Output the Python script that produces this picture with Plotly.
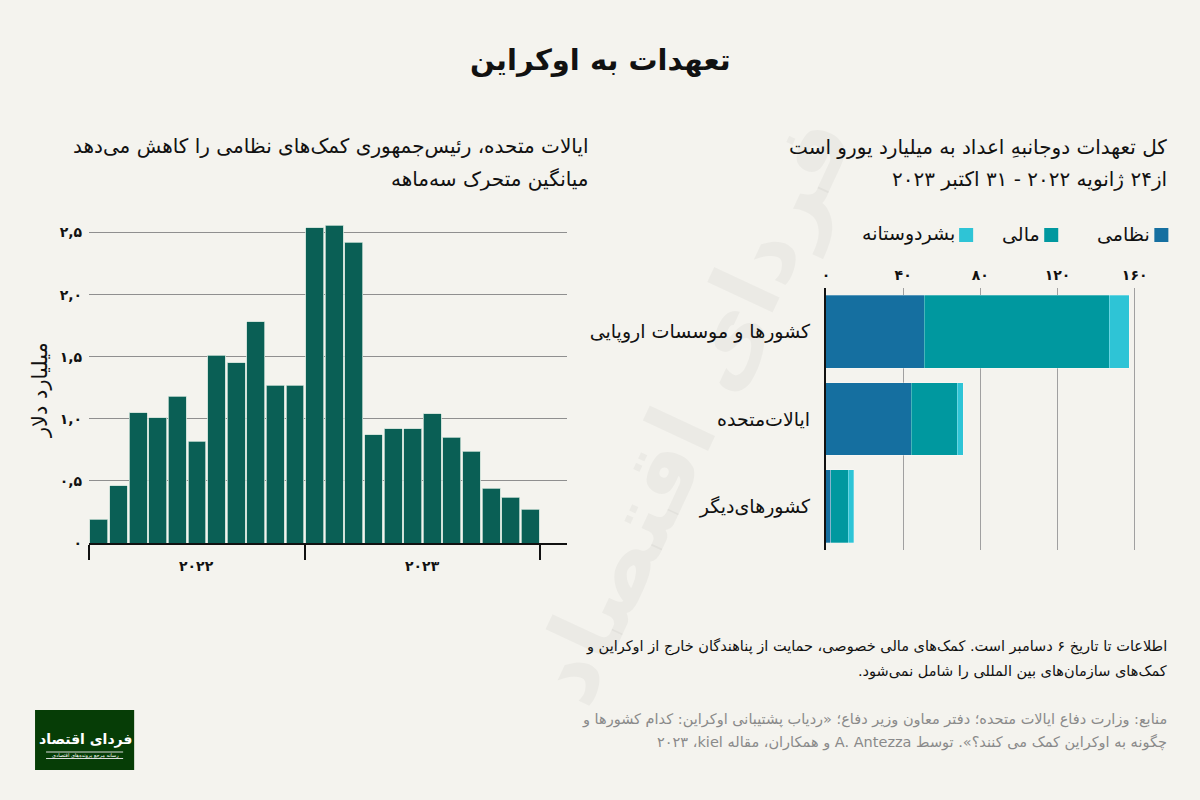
import plotly.graph_objects as go

# ---------------- data ----------------
months = ["2022-02", "2022-03", "2022-04", "2022-05", "2022-06", "2022-07", "2022-08",
          "2022-09", "2022-10", "2022-11", "2022-12",
          "2023-01", "2023-02", "2023-03", "2023-04", "2023-05", "2023-06", "2023-07",
          "2023-08", "2023-09", "2023-10", "2023-11", "2023-12"]
us_military = [0.19, 0.46, 1.05, 1.01, 1.18, 0.82, 1.51, 1.45, 1.78, 1.27, 1.27,
               2.54, 2.56, 2.42, 0.87, 0.92, 0.92, 1.04, 0.85, 0.74, 0.44, 0.37, 0.27]
year_labels = ["۲۰۲۲", "۲۰۲۳"]
years = ["2022", "2023"]
y_ticks = [0, 0.5, 1.0, 1.5, 2.0, 2.5]
y_ticktext = ["۰", "۰,۵", "۱,۰", "۱,۵", "۲,۰", "۲,۵"]

donors = ["کشورها و موسسات اروپایی", "ایالات‌متحده", "کشورهای‌دیگر"]
military = [51.0, 44.1, 2.6]
financial = [95.8, 23.9, 9.0]
humanitarian = [10.4, 3.1, 2.8]
series_names = ["نظامی", "مالی", "بشردوستانه"]
x_ticks = [0, 40, 80, 120, 160]
x_ticktext = ["۰", "۴۰", "۸۰", "۱۲۰", "۱۶۰"]

# ---------------- style ----------------
BG = "#f4f3ee"
BAR = "#0a5f55"
C_MIL = "#156fa0"
C_FIN = "#00989f"
C_HUM = "#2ec4d6"
FONT = "DejaVu Sans, sans-serif"
W, H = 1200, 800
RLE, PDF, RLM = "\u202b", "\u202c", "\u200f"
SCX, OX = 0.993, 4.0   # empirical correction of the captured picture
SCY = 0.99


def px(x):
    return ((x - OX) / SCX) / W


def py(y):
    return 1 - (y / SCY) / H


def rtl(s):
    return RLE + s + PDF


fig = go.Figure()

# left chart
xs = list(range(len(months)))
fig.add_trace(go.Bar(x=xs, y=us_military, marker=dict(color=BAR, line=dict(color="#c9ddd5", width=0.8)),
                     showlegend=False, xaxis="x", yaxis="y", hoverinfo="y"))

# right chart
for name, vals, col in zip(series_names, [military, financial, humanitarian], [C_MIL, C_FIN, C_HUM]):
    fig.add_trace(go.Bar(y=[rtl(d) for d in donors], x=vals, orientation="h", name=name, width=0.835,
                         marker=dict(color=col, line=dict(color="rgba(255,255,255,0.35)", width=0.8)),
                         showlegend=False, xaxis="x2", yaxis="y2"))

# year boundaries
bounds = [-0.5]
centers = []
for yr in years:
    idx = [i for i, m in enumerate(months) if m.startswith(yr)]
    bounds.append(idx[-1] + 0.5)
    centers.append((idx[0] + idx[-1]) / 2)

y_top = 2.65
fig.update_layout(
    width=W, height=H, margin=dict(l=0, r=0, t=0, b=0),
    paper_bgcolor=BG, plot_bgcolor="rgba(0,0,0,0)",
    font=dict(family=FONT, color="#111"),
    barmode="stack", bargap=0.09,
    xaxis=dict(domain=[px(89), px(566)], range=[-0.5, 23.85], tickvals=bounds,
               showticklabels=False, ticks="outside", ticklen=15, tickwidth=2,
               tickcolor="#111", showgrid=False, zeroline=False, showline=True,
               linecolor="#111", linewidth=2, fixedrange=True),
    yaxis=dict(domain=[py(543), py(543 - y_top * 124.2)], range=[0, y_top], tickvals=y_ticks,
               ticktext=y_ticktext, showgrid=True, gridcolor="#8f8f8f", gridwidth=1,
               zeroline=False, showline=False, ticks="", ticklabelstandoff=6,
               tickfont=dict(size=14, color="#111", weight="bold"), fixedrange=True),
    xaxis2=dict(domain=[px(825), px(825 + 165 * 1.927)], range=[0, 165], side="top",
                anchor="y2", tickvals=x_ticks, ticktext=x_ticktext, showgrid=True,
                gridcolor="#a0a0a0", gridwidth=1, zeroline=False, showline=False, ticks="",
                ticklabelstandoff=4,
                tickfont=dict(size=14, color="#111", weight="bold"), fixedrange=True),
    yaxis2=dict(domain=[py(550), py(288)], anchor="x2", autorange="reversed",
                showline=True, linecolor="#111", linewidth=2, ticks="", ticklabelstandoff=10,
                tickfont=dict(size=19, color="#111"), showgrid=False, fixedrange=True),
)

ann = []
# faint watermark
ann.append(dict(x=px(690), y=py(410), xref="paper", yref="paper", text=rtl("<b>فردای اقتصاد</b>"),
                textangle=-65, showarrow=False, font=dict(size=95, color="rgba(0,0,0,0.035)"),
                xanchor="center", yanchor="middle"))
# title
ann.append(dict(x=px(600), y=py(60), xref="paper", yref="paper", text=rtl("<b>تعهدات به اوکراین</b>"),
                showarrow=False, font=dict(size=29, color="#111"), xanchor="center", yanchor="middle"))
# left subtitle
ann.append(dict(x=px(590), y=py(146), xref="paper", yref="paper",
                text=rtl("ایالات متحده، رئیس‌جمهوری کمک‌های نظامی را کاهش می‌دهد"),
                showarrow=False, font=dict(size=20), xanchor="right", yanchor="middle"))
ann.append(dict(x=px(590), y=py(179), xref="paper", yref="paper", text=rtl("میانگین متحرک سه‌ماهه"),
                showarrow=False, font=dict(size=20), xanchor="right", yanchor="middle"))
# right subtitle
ann.append(dict(x=px(1168), y=py(147), xref="paper", yref="paper",
                text=rtl("کل تعهدات دوجانبهِ اعداد به میلیارد یورو است"),
                showarrow=False, font=dict(size=20), xanchor="right", yanchor="middle"))
ann.append(dict(x=px(1168), y=py(179), xref="paper", yref="paper",
                text=rtl("از۲۴ ژانویه ۲۰۲۲ - ۳۱ اکتبر ۲۰۲۳"),
                showarrow=False, font=dict(size=20), xanchor="right", yanchor="middle"))
# y axis title
ann.append(dict(x=px(40), y=py(390), xref="paper", yref="paper", text=rtl("میلیارد دلار"),
                textangle=-90, showarrow=False, font=dict(size=21), xanchor="center", yanchor="middle"))
# year labels
for c, lab in zip(centers, year_labels):
    ann.append(dict(x=c, y=py(566), xref="x", yref="paper", text="<b>" + lab + "</b>",
                    showarrow=False, font=dict(size=14), xanchor="center", yanchor="middle"))

# legend (manual, RTL: square at right of text)
shapes = []
leg_sq_right = [1167, 1057, 972]
for name, col, r in zip(series_names, [C_MIL, C_FIN, C_HUM], leg_sq_right):
    shapes.append(dict(type="rect", xref="paper", yref="paper", x0=px(r - 14), x1=px(r),
                       y0=py(242), y1=py(228), fillcolor=col, line=dict(width=0)))
    ann.append(dict(x=px(r - 16), y=py(234), xref="paper", yref="paper", text=rtl(name),
                    showarrow=False, font=dict(size=19), xanchor="right", yanchor="middle"))

# footnotes
ann.append(dict(x=px(1168), y=py(647), xref="paper", yref="paper",
                text=rtl("اطلاعات تا تاریخ ۶ دسامبر است. کمک‌های مالی خصوصی، حمایت از پناهندگان خارج از اوکراین و"),
                showarrow=False, font=dict(size=14.5), xanchor="right", yanchor="middle"))
ann.append(dict(x=px(1168), y=py(671), xref="paper", yref="paper",
                text=rtl("کمک‌های سازمان‌های بین المللی را شامل نمی‌شود."),
                showarrow=False, font=dict(size=14.5), xanchor="right", yanchor="middle"))
ann.append(dict(x=px(1168), y=py(719), xref="paper", yref="paper",
                text=rtl("منابع: وزارت دفاع ایالات متحده؛ دفتر معاون وزیر دفاع؛ «ردیاب پشتیبانی اوکراین: کدام کشورها و"),
                showarrow=False, font=dict(size=14.5, color="#8a8a8a"), xanchor="right", yanchor="middle"))
ann.append(dict(x=px(1168), y=py(743), xref="paper", yref="paper",
                text=rtl("چگونه به اوکراین کمک می کنند؟». توسط A. Antezza و همکاران، مقاله kiel" + RLM + "، ۲۰۲۳"),
                showarrow=False, font=dict(size=14.5, color="#8a8a8a"), xanchor="right", yanchor="middle"))

# logo
shapes.append(dict(type="rect", xref="paper", yref="paper", x0=px(35), x1=px(134), y0=py(770), y1=py(710),
                   fillcolor="#063d06", line=dict(width=0)))
shapes.append(dict(type="line", xref="paper", yref="paper", x0=px(46), x1=px(123), y0=py(752), y1=py(752),
                   line=dict(color="#dddddd", width=1)))
shapes.append(dict(type="line", xref="paper", yref="paper", x0=px(46), x1=px(123), y0=py(758.5), y1=py(758.5),
                   line=dict(color="#dddddd", width=1)))
ann.append(dict(x=px(85), y=py(739), xref="paper", yref="paper", text=rtl("<b>فردای اقتصاد</b>"),
                showarrow=False, font=dict(size=14, color="#ffffff"), xanchor="center", yanchor="middle"))
ann.append(dict(x=px(85), y=py(755.3), xref="paper", yref="paper", text=rtl("رسانه مرجع پرونده‌های اقتصادی"),
                showarrow=False, font=dict(size=5, color="#ffffff"), xanchor="center", yanchor="middle"))

fig.update_layout(annotations=ann, shapes=shapes)
fig.write_html(
    "out.html",
    config={"displayModeBar": False},
    post_script=("document.documentElement.style.margin='0';document.body.style.margin='0';"
                 "document.documentElement.style.background='" + BG + "';"
                 "document.body.style.background='" + BG + "';document.body.style.overflow='hidden';"),
)
